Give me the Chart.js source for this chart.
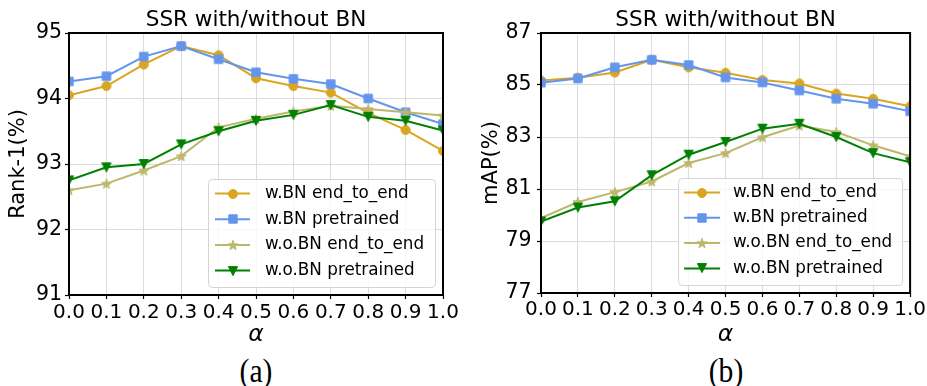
<!DOCTYPE html>
<html><head><meta charset="utf-8">
<script src="https://cdn.jsdelivr.net/npm/chart.js@4.4.0/dist/chart.umd.min.js"></script>
<style>
html,body{margin:0;padding:0;background:#fff;}
body{width:927px;height:386px;position:relative;overflow:hidden;}
.pane{position:absolute;top:0;height:350px;}
.cap{position:absolute;top:354px;width:100px;text-align:center;font-family:'Liberation Serif','Times New Roman',serif;font-size:34px;line-height:34px;transform:scaleX(0.87);color:#000;}
</style></head><body>
<div class="pane" style="left:0;width:463px"><canvas id="c1"></canvas></div>
<div class="pane" style="left:463px;width:464px"><canvas id="c2"></canvas></div>
<div class="cap" style="left:206px">(a)</div>
<div class="cap" style="left:676px">(b)</div>
<script>
// ---- data ----
const alpha = [0.0, 0.1, 0.2, 0.3, 0.4, 0.5, 0.6, 0.7, 0.8, 0.9, 1.0];
const seriesNames = ['w.BN end_to_end', 'w.BN pretrained', 'w.o.BN end_to_end', 'w.o.BN pretrained'];
const rank1_wBN_e2e  = [94.05, 94.19, 94.52, 94.80, 94.66, 94.31, 94.19, 94.09, 93.78, 93.52, 93.20];
const rank1_wBN_pre  = [94.26, 94.34, 94.64, 94.80, 94.60, 94.40, 94.30, 94.22, 94.00, 93.79, 93.61];
const rank1_woBN_e2e = [92.60, 92.70, 92.90, 93.12, 93.56, 93.69, 93.80, 93.89, 93.84, 93.79, 93.74];
const rank1_woBN_pre = [92.75, 92.95, 93.00, 93.30, 93.50, 93.66, 93.75, 93.90, 93.72, 93.66, 93.51];
const map_wBN_e2e  = [85.17, 85.28, 85.48, 85.97, 85.68, 85.47, 85.19, 85.06, 84.67, 84.47, 84.18];
const map_wBN_pre  = [85.09, 85.25, 85.68, 85.97, 85.77, 85.29, 85.10, 84.79, 84.47, 84.28, 83.99];
const map_woBN_e2e = [79.88, 80.50, 80.88, 81.29, 82.00, 82.38, 82.99, 83.44, 83.19, 82.68, 82.26];
const map_woBN_pre = [79.75, 80.29, 80.53, 81.53, 82.32, 82.81, 83.32, 83.51, 83.00, 82.38, 82.03];
const chartTitle = 'SSR with/without BN';
const xTitle = 'α';
const yTitleA = 'Rank-1(%)';
const yTitleB = 'mAP(%)';

// ---- styles ----
const colors = ['#DAA520', '#6495ED', '#BDB76B', '#008000'];
const shapes = ['circle', 'square', 'star', 'tridown'];
const FONT = "'DejaVu Sans', Verdana, sans-serif";
Chart.defaults.font.family = FONT;
Chart.defaults.color = '#000';

function makeMarker(shape, color) {
  const c = document.createElement('canvas');
  c.width = 16; c.height = 16;
  const g = c.getContext('2d');
  const m = 8;
  g.fillStyle = color; g.strokeStyle = color; g.lineWidth = 1;
  g.beginPath();
  if (shape === 'circle') {
    g.arc(m, m, 4.5, 0, Math.PI * 2);
  } else if (shape === 'square') {
    g.rect(m - 4.2, m - 4.2, 8.4, 8.4);
  } else if (shape === 'star') {
    for (let k = 0; k < 10; k++) {
      const r = (k % 2) ? 2.1 : 5.2;
      const a = -Math.PI / 2 + k * Math.PI / 5;
      const px = m + r * Math.cos(a), py = m + 0.5 + r * Math.sin(a);
      if (k === 0) g.moveTo(px, py); else g.lineTo(px, py);
    }
    g.closePath();
  } else {
    g.moveTo(m - 4.6, m - 4.4); g.lineTo(m + 4.6, m - 4.4); g.lineTo(m, m + 4.6); g.closePath();
  }
  g.fill(); g.stroke();
  return c;
}
const markers = shapes.map((s, i) => makeMarker(s, colors[i]));

const framePlugin = {
  id: 'frame',
  afterDatasetsDraw(chart) {
    const {ctx, chartArea: a} = chart;
    ctx.save();
    ctx.strokeStyle = '#000'; ctx.lineWidth = 2;
    ctx.strokeRect(a.left, a.top, a.right - a.left, a.bottom - a.top);
    ctx.restore();
  }
};

const legendPlugin = {
  id: 'boxLegend',
  afterDraw(chart, args, o) {
    const {ctx, chartArea: a} = chart;
    const x = a.right - o.margin - o.width, y = a.bottom - o.margin - o.height;
    ctx.save();
    ctx.beginPath();
    ctx.roundRect(x + 0.5, y + 0.5, o.width, o.height, 4);
    ctx.fillStyle = 'rgba(255,255,255,0.8)'; ctx.fill();
    ctx.strokeStyle = '#d4d4d4'; ctx.lineWidth = 1; ctx.stroke();
    chart.data.datasets.forEach((ds, i) => {
      const cy = y + o.firstRow + i * o.rowGap;
      ctx.strokeStyle = ds.borderColor; ctx.lineWidth = 2;
      ctx.beginPath(); ctx.moveTo(x + o.lineX0, cy); ctx.lineTo(x + o.lineX1, cy); ctx.stroke();
      const img = ds.pointStyle;
      const cx = (x + o.lineX0 + x + o.lineX1) / 2;
      ctx.drawImage(img, Math.round(cx - img.width / 2), Math.round(cy - img.height / 2));
      ctx.fillStyle = '#000'; ctx.font = o.fontSize + 'px ' + FONT;
      ctx.textBaseline = 'middle'; ctx.textAlign = 'left';
      ctx.fillText(ds.label, x + o.textX, cy);
    });
    ctx.restore();
  }
};

function buildDatasets(series) {
  return series.map((vals, i) => ({
    label: seriesNames[i],
    data: alpha.map((a, j) => ({x: a, y: vals[j]})),
    borderColor: colors[i],
    backgroundColor: colors[i],
    borderWidth: 2,
    pointStyle: markers[i],
    pointRadius: 5,
    pointHoverRadius: 5,
    tension: 0,
    clip: 0,
    order: 4 - i
  }));
}

function makeChart(id, series, yTitle, ymin, ymax, ystep, g) {
  return new Chart(document.getElementById(id), {
    type: 'line',
    data: {datasets: buildDatasets(series)},
    options: {
      responsive: true, maintainAspectRatio: false, animation: false, devicePixelRatio: 1,
      layout: {padding: {left: 0, right: g.padRight, top: 0, bottom: 0}},
      plugins: {
        legend: {display: false},
        tooltip: {enabled: false},
        title: {display: true, text: chartTitle, fullSize: false,
          font: {size: 21.5, weight: 'normal', lineHeight: 1.0}, color: '#000',
          padding: {top: 10, bottom: 1.5}},
        boxLegend: g.legend
      },
      scales: {
        x: {
          type: 'linear', min: 0, max: 1,
          afterFit: s => { s.height = g.xHeight; },
          border: {display: false},
          grid: {color: '#dcdcdc', lineWidth: 1, tickColor: '#000', tickLength: 4, tickWidth: 1.2},
          ticks: {stepSize: 0.1, autoSkip: false, maxRotation: 0, minRotation: 0,
            padding: g.xTickPad, font: {size: 20}, color: '#000',
            callback: v => Number(v).toFixed(1)},
          title: {display: true, text: xTitle, font: {size: 23.5, style: 'italic'}, color: '#000',
            padding: {top: 0, bottom: 1.4}}
        },
        y: {
          type: 'linear', min: ymin, max: ymax,
          afterFit: s => { s.width = g.yWidth; },
          border: {display: false},
          grid: {color: '#dcdcdc', lineWidth: 1, tickColor: '#000', tickLength: 4, tickWidth: 1.2},
          ticks: {stepSize: ystep, padding: g.yTickPad, font: {size: 20.5}, color: '#000'},
          title: {display: true, text: yTitle, font: {size: 21}, color: '#000',
            padding: {top: g.yTitlePad, bottom: 0}}
        }
      }
    },
    plugins: [framePlugin, legendPlugin]
  });
}

makeChart('c1', [rank1_wBN_e2e, rank1_wBN_pre, rank1_woBN_e2e, rank1_woBN_pre], yTitleA, 91, 95, 1, {
  padRight: 20, xHeight: 55, yWidth: 69, xTickPad: 2, yTickPad: 3, yTitlePad: 5.7,
  legend: {width: 227, height: 108, margin: 8, firstRow: 14.5, rowGap: 25.7, lineX0: 7, lineX1: 42, textX: 57, fontSize: 16.8}
});
makeChart('c2', [map_wBN_e2e, map_wBN_pre, map_woBN_e2e, map_woBN_pre], yTitleB, 77, 87, 2, {
  padRight: 16, xHeight: 57, yWidth: 78, xTickPad: 1, yTickPad: 5.5, yTitlePad: 15.9,
  legend: {width: 224, height: 107, margin: 8, firstRow: 14.5, rowGap: 25.3, lineX0: 6, lineX1: 42, textX: 55, fontSize: 16.8}
});
</script>
</body></html>
